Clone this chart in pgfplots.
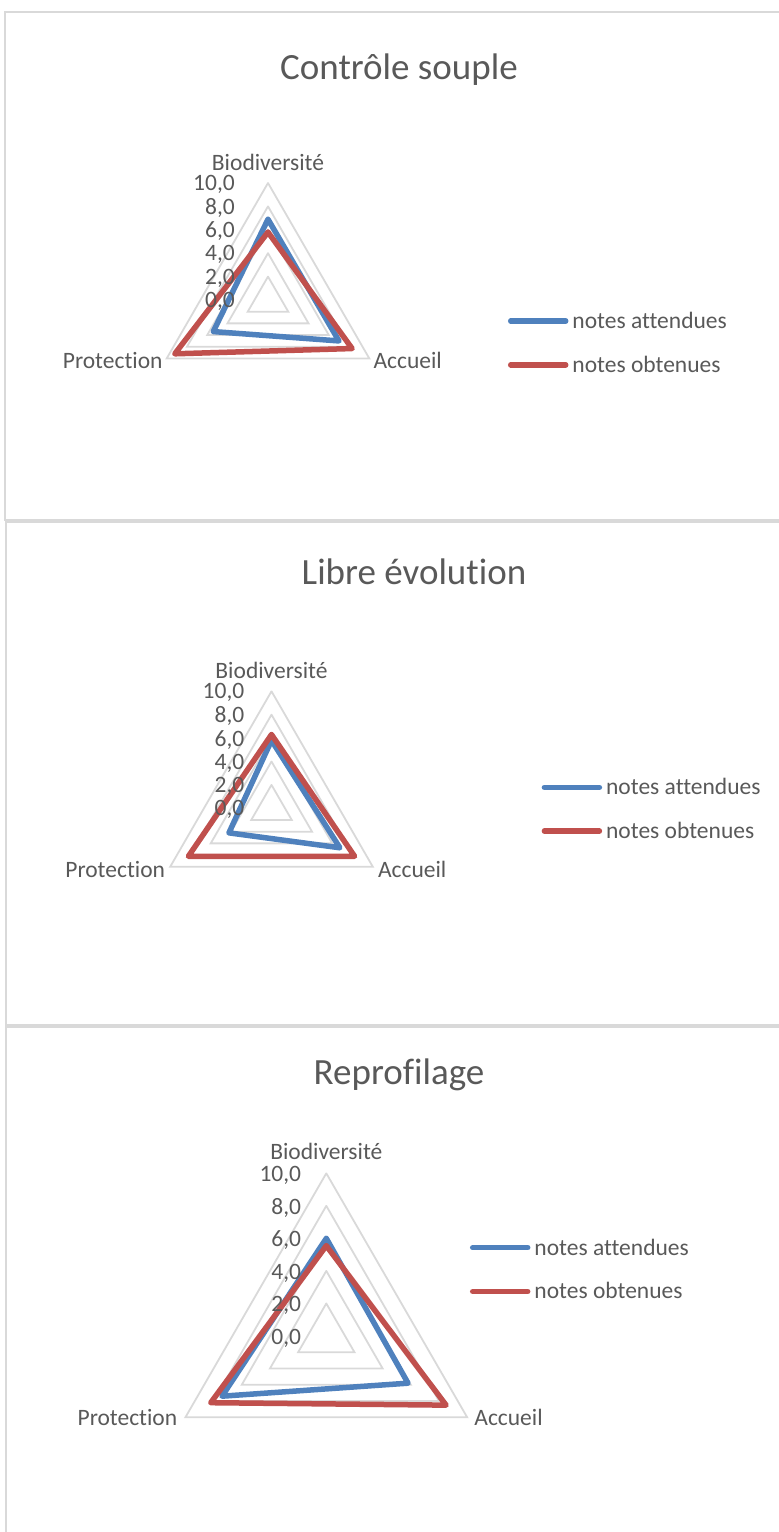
\documentclass[border=0pt]{standalone}
\usepackage{fontspec}
\setmainfont[Ligatures=NoCommon]{Carlito}
\usepackage{pgfplots}
\pgfplotsset{compat=1.18}
\definecolor{cblue}{HTML}{4F81BD}
\definecolor{cred}{HTML}{C0504D}
\definecolor{cgrid}{HTML}{D9D9D9}
\definecolor{ctext}{HTML}{595959}
\newcommand{\lbl}{\fontsize{23.5pt}{28pt}\selectfont}
\newcommand{\ttl}{\fontsize{37pt}{44pt}\selectfont}
\pgfplotsset{
  radar/.style={anchor=center, scale only axis, xmin=-10, xmax=10, ymin=-10, ymax=10,
    hide axis, clip=false,
    legend style={draw=none, fill=none, inner sep=0pt, outer sep=0pt, anchor=west,
      font=\lbl, text=ctext, row sep=22pt, column sep=4pt, nodes={inner xsep=0pt}},
    legend cell align=left,
    legend image code/.code={\draw[##1, line cap=round] (0pt,0pt) -- (55pt,0pt);},
  },
  gridtri/.style={cgrid, line width=1.8pt, forget plot, data cs=polar, line cap=round, line join=miter},
  ser/.style={line width=5.5pt, line join=round, line cap=round, data cs=polar},
}
\tikzset{
  tl/.style={anchor=east, inner sep=0pt, font=\lbl, text=ctext},
  al/.style={inner sep=0pt, font=\lbl, text=ctext},
}
\begin{document}
\begin{tikzpicture}
\path[use as bounding box] (0pt,0pt) rectangle (779pt,1532pt);
% panel borders
\draw[cgrid, line width=2pt] (790pt,1520pt) -- (5pt,1520pt) -- (5pt,1012pt) -- (790pt,1012pt);
\draw[cgrid, line width=2pt] (790pt,1010pt) -- (6pt,1010pt) -- (6pt,507pt) -- (790pt,507pt);
\draw[cgrid, line width=2pt] (790pt,505pt) -- (6pt,505pt) -- (6pt,-10pt);
% titles
\node[font=\ttl, text=ctext] at (399pt,1462pt) {Contrôle souple};
\node[font=\ttl, text=ctext] at (414pt,960pt) {Libre évolution};
\node[font=\ttl, text=ctext] at (399pt,457pt) {Reprofilage};

% ---------- Panel 1 ----------
\begin{axis}[radar, at={(268pt,1232pt)}, width=234pt, height=234pt,
  legend style={at={(axis cs:20.51,-3.67)}}]
\addplot[gridtri] coordinates {(90,2) (-30,2) (210,2) (90,2)};
\addplot[gridtri] coordinates {(90,4) (-30,4) (210,4) (90,4)};
\addplot[gridtri] coordinates {(90,6) (-30,6) (210,6) (90,6)};
\addplot[gridtri] coordinates {(90,8) (-30,8) (210,8) (90,8)};
\addplot[gridtri] coordinates {(90,10) (-30,10) (210,10) (90,10)};
\addplot[ser, cblue] coordinates {(90,6.9) (-30,7.0) (210,5.4) (90,6.9)};
\addlegendentry{notes attendues}
\addplot[ser, cred] coordinates {(90,5.8) (-30,8.3) (210,9.2) (90,5.8)};
\addlegendentry{notes obtenues}
\node[tl, xshift=-33pt, yshift=-1.5pt] at (axis cs:0,10) {10,0};
\node[tl, xshift=-33pt, yshift=-1.5pt] at (axis cs:0,8) {8,0};
\node[tl, xshift=-33pt, yshift=-1.5pt] at (axis cs:0,6) {6,0};
\node[tl, xshift=-33pt, yshift=-1.5pt] at (axis cs:0,4) {4,0};
\node[tl, xshift=-33pt, yshift=-1.5pt] at (axis cs:0,2) {2,0};
\node[tl, xshift=-33pt, yshift=-1.5pt] at (axis cs:0,0) {0,0};
\node[al, anchor=base, yshift=12pt] at (axis cs:0,10) {Biodiversité};
\node[al, anchor=base east, xshift=-4pt, yshift=-10.5pt] at (axis cs:-8.660,-5) {Protection};
\node[al, anchor=base west, xshift=4pt, yshift=-10.5pt] at (axis cs:8.660,-5) {Accueil};
\end{axis}

% ---------- Panel 2 ----------
\begin{axis}[radar, at={(271.5pt,723.7pt)}, width=234pt, height=234pt,
  legend style={at={(axis cs:23.09,-0.08)}}]
\addplot[gridtri] coordinates {(90,2) (-30,2) (210,2) (90,2)};
\addplot[gridtri] coordinates {(90,4) (-30,4) (210,4) (90,4)};
\addplot[gridtri] coordinates {(90,6) (-30,6) (210,6) (90,6)};
\addplot[gridtri] coordinates {(90,8) (-30,8) (210,8) (90,8)};
\addplot[gridtri] coordinates {(90,10) (-30,10) (210,10) (90,10)};
\addplot[ser, cblue] coordinates {(90,5.8) (-30,6.75) (210,4.2) (90,5.8)};
\addlegendentry{notes attendues}
\addplot[ser, cred] coordinates {(90,6.3) (-30,8.2) (210,8.2) (90,6.3)};
\addlegendentry{notes obtenues}
\node[tl, xshift=-27pt, yshift=-1.5pt] at (axis cs:0,10) {10,0};
\node[tl, xshift=-27pt, yshift=-1.5pt] at (axis cs:0,8) {8,0};
\node[tl, xshift=-27pt, yshift=-1.5pt] at (axis cs:0,6) {6,0};
\node[tl, xshift=-27pt, yshift=-1.5pt] at (axis cs:0,4) {4,0};
\node[tl, xshift=-27pt, yshift=-1.5pt] at (axis cs:0,2) {2,0};
\node[tl, xshift=-27pt, yshift=-1.5pt] at (axis cs:0,0) {0,0};
\node[al, anchor=base, yshift=13pt] at (axis cs:0,10) {Biodiversité};
\node[al, anchor=base east, xshift=-5pt, yshift=-10.5pt] at (axis cs:-8.660,-5) {Protection};
\node[al, anchor=base west, xshift=5pt, yshift=-10.5pt] at (axis cs:8.660,-5) {Accueil};
\end{axis}

% ---------- Panel 3 ----------
\begin{axis}[radar, at={(326.3pt,196pt)}, width=325.4pt, height=325.4pt,
  legend style={at={(axis cs:8.83,4.08)}}]
\addplot[gridtri] coordinates {(90,2) (-30,2) (210,2) (90,2)};
\addplot[gridtri] coordinates {(90,4) (-30,4) (210,4) (90,4)};
\addplot[gridtri] coordinates {(90,6) (-30,6) (210,6) (90,6)};
\addplot[gridtri] coordinates {(90,8) (-30,8) (210,8) (90,8)};
\addplot[gridtri] coordinates {(90,10) (-30,10) (210,10) (90,10)};
\addplot[ser, cblue] coordinates {(90,6.0) (-30,5.8) (210,7.4) (90,6.0)};
\addlegendentry{notes attendues}
\addplot[ser, cred] coordinates {(90,5.55) (-30,8.5) (210,8.2) (90,5.55)};
\addlegendentry{notes obtenues}
\node[tl, xshift=-25pt, yshift=-2pt] at (axis cs:0,10) {10,0};
\node[tl, xshift=-25pt, yshift=-2pt] at (axis cs:0,8) {8,0};
\node[tl, xshift=-25pt, yshift=-2pt] at (axis cs:0,6) {6,0};
\node[tl, xshift=-25pt, yshift=-2pt] at (axis cs:0,4) {4,0};
\node[tl, xshift=-25pt, yshift=-2pt] at (axis cs:0,2) {2,0};
\node[tl, xshift=-25pt, yshift=-2pt] at (axis cs:0,0) {0,0};
\node[al, anchor=base, yshift=14pt] at (axis cs:0,10) {Biodiversité};
\node[al, anchor=base east, xshift=-8pt, yshift=-8pt] at (axis cs:-8.660,-5) {Protection};
\node[al, anchor=base west, xshift=7pt, yshift=-8pt] at (axis cs:8.660,-5) {Accueil};
\end{axis}
\end{tikzpicture}
\end{document}
